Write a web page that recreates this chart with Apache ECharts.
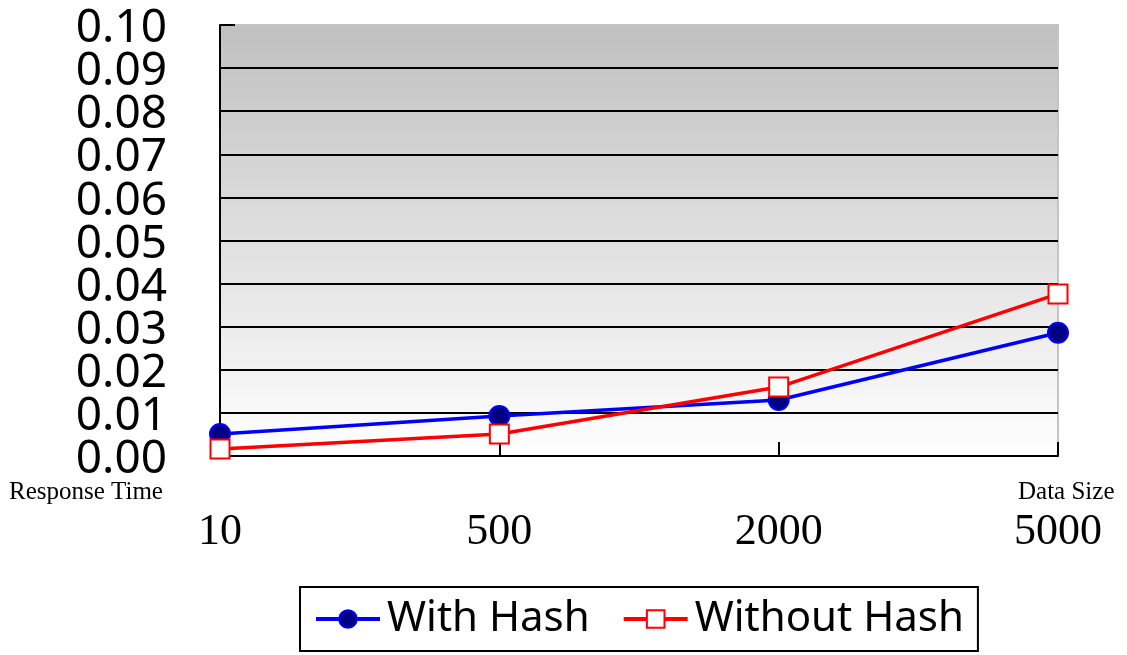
<!DOCTYPE html>
<html>
<head>
<meta charset="utf-8">
<script src="https://cdn.jsdelivr.net/npm/echarts@6/dist/echarts.min.js"></script>
<style>html,body{margin:0;padding:0;background:#fff;}#c{width:1127px;height:655px;}</style>
</head>
<body>
<div id="c"></div>
<script>
const categories = ['10', '500', '2000', '5000'];
const withHash = [0.0051, 0.0093, 0.0130, 0.0286];
const withoutHash = [0.0016, 0.0051, 0.0160, 0.0376];
const seriesNames = ['With Hash', 'Without Hash'];
const yAxisName = 'Response Time';
const xAxisName = 'Data Size';
const yTicksEven = [0, 0.02, 0.04, 0.06, 0.08, 0.1];
const yTicksOdd = [0.01, 0.03, 0.05, 0.07, 0.09];

const yLabel = (vals) => ({
  margin: 53, fontSize: 12, color: '#000',
  customValues: vals,
  formatter: v => '{a|' + v.toFixed(2) + '}',
  rich: {a: {fontFamily: 'Noto Sans', fontSize: 46, lineHeight: 30, color: '#000', padding: [8, 0, 0, 0]}}
});

const chart = echarts.init(document.getElementById('c'));
chart.setOption({
  backgroundColor: '#ffffff',
  animation: false,
  grid: {
    left: 220, right: 69, top: 25, bottom: 199,
    outerBoundsMode: 'none',
    show: true,
    borderWidth: 2,
    borderColor: '#c4c4c4',
    backgroundColor: new echarts.graphic.LinearGradient(0, 0, 0, 1, [
      {offset: 0, color: '#c0c0c0'},
      {offset: 1, color: '#ffffff'}
    ])
  },
  legend: {
    left: 300, top: 587,
    data: seriesNames,
    itemWidth: 64, itemHeight: 22, itemGap: 32,
    padding: [11, 14, 11, 14],
    borderColor: '#000', borderWidth: 2,
    lineStyle: {width: 4},
    textStyle: {fontFamily: 'Noto Sans', fontSize: 42, color: '#000', padding: [0, 0, 0, 2]}
  },
  graphic: [
    {type: 'text', left: 9, top: 480, style: {text: yAxisName, font: '25px "Liberation Serif"', fill: '#000'}},
    {type: 'text', left: 1018, top: 480, style: {text: xAxisName, font: '25px "Liberation Serif"', fill: '#000'}}
  ],
  xAxis: {
    type: 'category',
    data: categories,
    boundaryGap: false,
    axisLine: {lineStyle: {color: '#000', width: 2}},
    axisTick: {show: true, inside: true, length: 14, lineStyle: {color: '#000', width: 2}},
    axisLabel: {margin: 54, fontFamily: 'Liberation Serif', fontSize: 44, color: '#000'},
    splitLine: {show: false}
  },
  yAxis: [
    {
      type: 'value', position: 'left',
      min: 0, max: 0.1, interval: 0.01,
      axisLine: {show: true, lineStyle: {color: '#000', width: 2}},
      axisTick: {show: true, inside: true, length: 15, lineStyle: {color: '#000', width: 2}},
      axisLabel: yLabel(yTicksEven),
      splitLine: {show: true, showMaxLine: false, lineStyle: {color: '#000', width: 2}}
    },
    {
      type: 'value', position: 'left', offset: 0,
      min: 0, max: 0.1, interval: 0.01,
      axisLine: {show: false},
      axisTick: {show: false},
      axisLabel: yLabel(yTicksOdd),
      splitLine: {show: false}
    }
  ],
  series: [
    {
      name: seriesNames[0], type: 'line', data: withHash, yAxisIndex: 0,
      symbol: 'circle', symbolSize: 20,
      lineStyle: {color: '#0000ff', width: 3.5},
      itemStyle: {color: '#000080', borderColor: '#0000ff', borderWidth: 2},
      z: 3
    },
    {
      name: seriesNames[1], type: 'line', data: withoutHash, yAxisIndex: 0,
      symbol: 'rect', symbolSize: 19,
      lineStyle: {color: '#ff0000', width: 3.5},
      itemStyle: {color: '#ffffff', borderColor: '#ff0000', borderWidth: 2},
      z: 4
    }
  ]
});
</script>
</body>
</html>
